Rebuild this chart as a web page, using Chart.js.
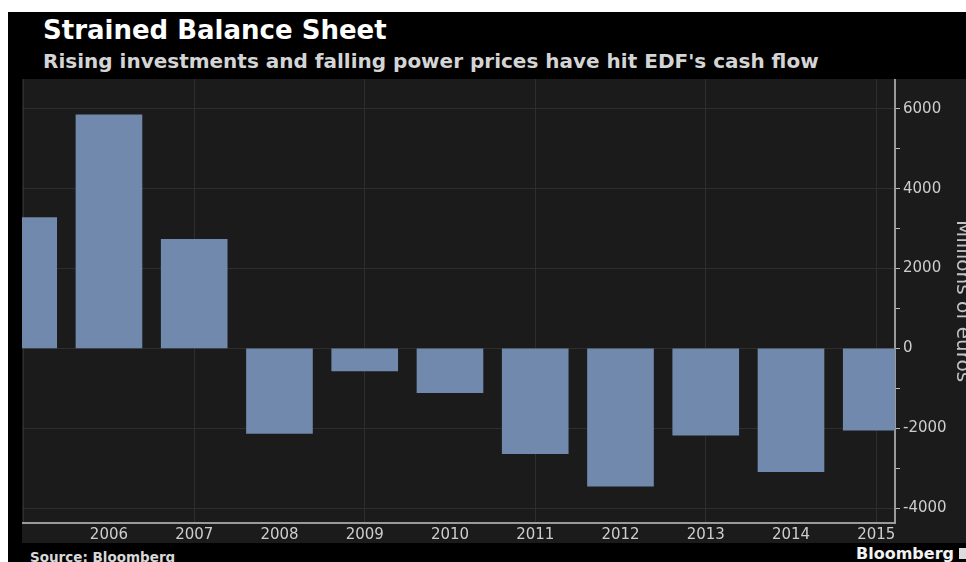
<!DOCTYPE html>
<html>
<head>
<meta charset="utf-8">
<script src="https://cdn.jsdelivr.net/npm/chart.js@4.4.1/dist/chart.umd.min.js"></script>
<style>
html,body{margin:0;padding:0;background:#fff;width:966px;height:562px;overflow:hidden;font-family:'DejaVu Sans',sans-serif}
.frame{position:absolute;left:8px;top:12px;width:1000px;height:560px;background:#000}
.title{position:absolute;left:43px;top:15px;color:#fff;font-weight:bold;font-size:26px;line-height:30px;white-space:nowrap}
.sub{position:absolute;left:43px;top:49px;color:#d4d4d4;font-weight:bold;font-size:20px;line-height:24px;white-space:nowrap}
.wrap{position:absolute;left:22px;top:79px;width:980px;height:464px;background:#1b1b1b}
.source{position:absolute;left:30px;top:549px;color:#d8d8d8;font-weight:bold;font-size:13.5px;line-height:16px;white-space:nowrap}
.logo{position:absolute;left:856px;top:544px;color:#f2f2f2;font-weight:bold;font-size:16px;line-height:19px;white-space:nowrap}
.logo span{display:inline-block;width:9px;height:11px;background:#ddd;margin-left:5px}
</style>
</head>
<body>
<div class="frame"></div>
<div class="title">Strained Balance Sheet</div>
<div class="sub">Rising investments and falling power prices have hit EDF's cash flow</div>
<div class="wrap"><canvas id="cashChart"></canvas></div>
<div class="source">Source: Bloomberg</div>
<div class="logo">Bloomberg<span></span></div>
<script>
const years = [2005,2006,2007,2008,2009,2010,2011,2012,2013,2014,2015];
const xTickLabels = ['','2006','2007','2008','2009','2010','2011','2012','2013','2014','2015'];
const cashFlow = [3280,5850,2730,-2130,-565,-1110,-2635,-3455,-2175,-3090,-2050];
const yTickLabels = [-4000,-2000,0,2000,4000,6000];

const GRID = '#2e2e2e';
const AXIS = '#9a9a9a';
const TXT = '#cdcdcd';
Chart.defaults.font.family = "'DejaVu Sans', sans-serif";

// drop the label padding chart.js adds so the plot fills the grey box
const noPad = s => { s.paddingTop = 0; s.paddingBottom = 0; s.paddingLeft = 0; s.paddingRight = 0; };

new Chart(document.getElementById('cashChart'),{type:'bar',
  data:{datasets:[{label:'Cash flow',data:years.map((y,i)=>({x:y,y:cashFlow[i]})),
    backgroundColor:'#7189ad',borderWidth:0,barThickness:66,clip:0}]},
  options:{responsive:true,maintainAspectRatio:false,animation:false,
    layout:{padding:0},
    plugins:{legend:{display:false},tooltip:{enabled:false}},
    scales:{
      x:{type:'linear',min:2004.98,max:2015.22,offset:false,
        grid:{offset:false,drawTicks:false,color:c=>c.tick && c.tick.value%2===1?GRID:'transparent'},
        border:{color:AXIS,width:2},
        afterBuildTicks:s=>{s.ticks=years.map(v=>({value:v}));},
        afterFit:s=>{s.height=20;noPad(s);},
        ticks:{autoSkip:false,maxRotation:0,padding:3,color:TXT,font:{size:15},
          callback:v=>{const i=years.indexOf(v);return i<0?'':xTickLabels[i];}}},
      y:{position:'right',min:-4375,max:6750,
        grid:{tickLength:5,tickColor:'#bdbdbd',color:c=>c.tick && yTickLabels.includes(c.tick.value)?GRID:'transparent'},
        border:{color:AXIS,width:2},
        afterBuildTicks:s=>{const t=[];for(let v=-4000;v<=6000;v+=1000)t.push({value:v});s.ticks=t;},
        afterFit:s=>{s.width=107;noPad(s);},
        ticks:{padding:3,color:TXT,font:{size:15},callback:v=>yTickLabels.includes(v)?String(v):''},
        title:{display:true,text:'Millions of euros',color:'#c4c4c4',font:{size:20},padding:{top:28,bottom:0}}}
    }}
});
</script>
</body>
</html>
